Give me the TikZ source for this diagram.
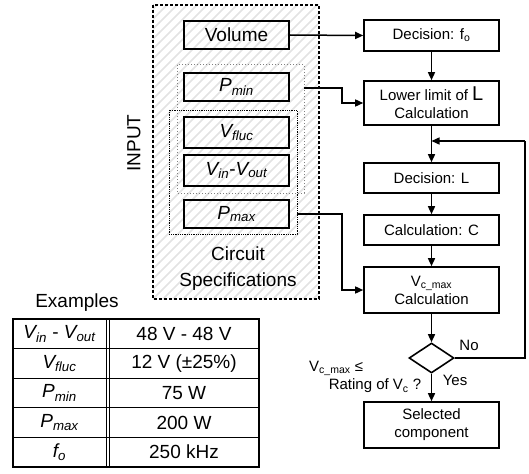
\documentclass[tikz,border=0pt]{standalone}
\usepackage{fontspec}
\setmainfont{Liberation Sans}
\usetikzlibrary{arrows.meta,shapes.geometric}
\newcommand{\bigtxt}{\fontsize{19}{21}\selectfont}
\newcommand{\smtxt}{\fontsize{15}{18}\selectfont}
\begin{document}
\begin{tikzpicture}[x=1pt,y=-1pt,
  inbox/.style={draw,line width=1.6pt,minimum width=105pt,inner sep=0pt,font=\bigtxt},
  rbox/.style={draw,line width=1.6pt,minimum width=135pt,inner sep=0pt,align=center,font=\smtxt},
  conn/.style={line width=1.5pt,-{Triangle[length=8pt,width=7pt]}},
  plain/.style={line width=1.5pt},
  lbl/.style={inner sep=0pt,font=\smtxt},
  cell/.style={inner sep=0pt,font=\bigtxt}]
\useasboundingbox (0,0) rectangle (529,473);

% hatched background of the input block
\begin{scope}
  \clip (153,5) rectangle (319,299);
  \foreach \i in {-320,-310,...,180}
    \draw[gray!22,line width=1.6pt] (153+\i,299) -- ++(310,-310);
\end{scope}
\draw[line width=1.6pt,dash pattern=on 3pt off 2pt] (153,5) rectangle (319,299);

\node[rotate=90,inner sep=0pt,font=\bigtxt] (input) at (134,143) {INPUT};

% grouping boxes
\draw[gray,line width=1pt,dotted] (177,65) rectangle (304,193);
\draw[black,line width=0.8pt,densely dotted] (169,110) rectangle (297,234);
\coordinate (g1) at (304,88);
\coordinate (g2) at (297,214);

\node[inbox,minimum height=28pt] (vol) at (236.5,35) {Volume};
\node[inbox,minimum height=28pt] (pmin) at (236.5,87) {\textit{P\textsubscript{min}}};
\node[inbox,minimum height=31pt] (vfluc) at (236.5,132.5) {\textit{V\textsubscript{fluc}}};
\node[inbox,minimum height=31pt] (vinout) at (236.5,170.5) {\textit{V\textsubscript{in}}-\textit{V\textsubscript{out}}};
\node[inbox,minimum height=28pt] (pmax) at (236.5,214) {\textit{P\textsubscript{max}}};

\node[inner sep=0pt,font=\bigtxt,align=center] (cs) at (238,268.5) {Circuit\\[5pt]Specifications};

% right column
\node[rbox,minimum height=31pt] (decfo) at (431.5,35.5) {Decision: f\textsubscript{o}};
\node[rbox,minimum height=44pt] (lower) at (431.5,103) {Lower limit of {\fontsize{20}{20}\selectfont L}\\Calculation};
\node[rbox,minimum height=30pt] (decL) at (431.5,178) {Decision: L};
\node[rbox,minimum height=30pt] (calcC) at (431.5,230) {Calculation: C};
\node[rbox,minimum height=46pt] (vcmax) at (431.5,290) {V\textsubscript{c\_max}\\Calculation};
\node[draw,diamond,line width=1.6pt,minimum width=45pt,minimum height=30pt,inner sep=0pt] (dia) at (431.5,358) {};
\node[rbox,minimum height=46pt] (sel) at (431.5,425) {Selected\\component};

\coordinate (loopin) at (431.5,141);
\coordinate (loopr) at (525,141);
\coordinate (loopd) at (525,358);

% connectors
\draw[conn] (vol.east) -- (decfo.west);
\draw[conn] (g1) -- (342,88) |- (lower.west);
\draw[conn] (g2) -- (342,214) |- (vcmax.west);
\draw[conn] (decfo) -- (lower);
\draw[conn] (lower) -- (decL);
\draw[conn] (decL) -- (calcC);
\draw[conn] (calcC) -- (vcmax);
\draw[conn] (vcmax) -- (dia.north);
\draw[conn] (dia.south) -- (sel);
\draw[plain] (dia.east) -- (loopd) -- (loopr);
\draw[conn] (loopr) -- (loopin);

\node[lbl] (no) at (469,345) {No};
\node[lbl] (yes) at (455,380) {Yes};
\node[lbl,anchor=west] (q1) at (309,368) {V\textsubscript{c\_max} ≤};
\node[lbl] (q2) at (375,386) {Rating of V\textsubscript{c} ?};

% examples table
\node[inner sep=0pt,font=\bigtxt] (ex) at (77,303) {Examples};
\draw[line width=1pt] (13,348.6) -- (259,348.6)
  (13,378.2) -- (259,378.2) (13,407.8) -- (259,407.8) (13,437.4) -- (259,437.4);
\draw[line width=1pt] (106,319) -- (106,467) (109,319) -- (109,467);
\draw[line width=2.5pt] (13,319) rectangle (259,467);

\node[cell] (r1a) at (59.5,333.8) {\textit{V\textsubscript{in}} - \textit{V\textsubscript{out}}};
\node[cell] (r2a) at (59.5,363.4) {\textit{V\textsubscript{fluc}}};
\node[cell] (r3a) at (59.5,393) {\textit{P\textsubscript{min}}};
\node[cell] (r4a) at (59.5,422.6) {\textit{P\textsubscript{max}}};
\node[cell] (r5a) at (59.5,452.2) {\textit{f\textsubscript{o}}};
\node[cell] (r1b) at (184,333.8) {48 V - 48 V};
\node[cell] (r2b) at (184,363.4) {12 V (±25\%)};
\node[cell] (r3b) at (184,393) {75 W};
\node[cell] (r4b) at (184,422.6) {200 W};
\node[cell] (r5b) at (184,452.2) {250 kHz};
\end{tikzpicture}
\end{document}
